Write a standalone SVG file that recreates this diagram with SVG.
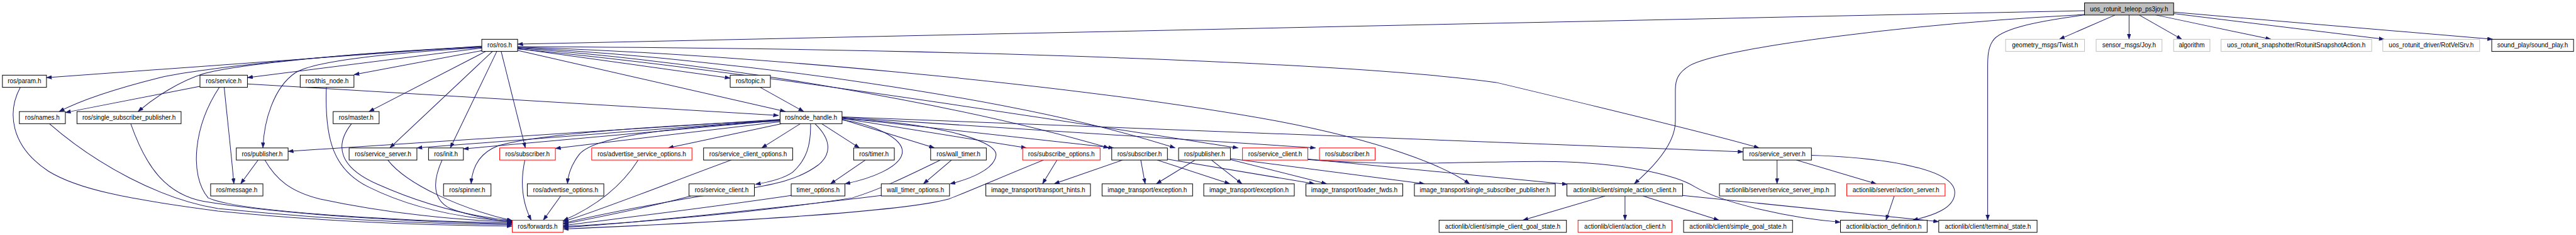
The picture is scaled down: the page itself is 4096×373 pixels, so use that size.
<svg xmlns="http://www.w3.org/2000/svg" width="4096" height="373" viewBox="0 0 4096 373">
<style>
.n rect{fill:#fff;stroke:#000;stroke-width:1.3}
.n.r rect{stroke:#f00}
.n.g rect{stroke:#bfbfbf}
.n.root rect{fill:#bfbfbf}
.n text{font-family:"Liberation Sans",Arial,sans-serif;font-size:13px;text-anchor:middle;fill:#000}
#edges path{fill:none;stroke:#191970;stroke-width:1.3;marker-end:url(#a)}
</style>
<defs>
<marker id="a" markerUnits="userSpaceOnUse" viewBox="0 0 11 8" refX="11" refY="4" markerWidth="11" markerHeight="8" orient="auto">
<path d="M0,0 L11,4 L0,8 z" fill="#191970" stroke="#191970" stroke-width="0.5"/>
</marker>
</defs>
<rect width="4096" height="373" fill="#fff"/>
<g transform="scale(0.769925)">
<g id="edges">
<path d="M4305,22 L1069,91"/>
<path d="M4305,30 C4000,45 3560,95 3490,135 C3465,150 3460,165 3460,185 L3460,250 C3460,295 3420,340 3375,379"/>
<path d="M4305,31 C4200,45 4130,60 4115,85 C4105,100 4105,120 4105,140 L4105,454"/>
<path d="M4368,31 L4253,81"/>
<path d="M4397,31 L4397,81"/>
<path d="M4418,31 L4506,81"/>
<path d="M4453,31 L4690,81"/>
<path d="M4489,28 L4924,81"/>
<path d="M4489,25 L5148,81"/>
<path d="M995,95 L96,160"/>
<path d="M995,96 C700,110 420,140 330,160 C250,180 170,205 122,230"/>
<path d="M995,97 C700,110 480,135 420,152 C370,168 320,200 285,230"/>
<path d="M995,99 L511,160"/>
<path d="M997,104 L731,154"/>
<path d="M995,98 C800,110 650,125 610,150 C565,180 545,250 543,305"/>
<path d="M1003,106 L762,230"/>
<path d="M1017,106 L805,305"/>
<path d="M1026,106 L930,305"/>
<path d="M1035,106 L1085,305"/>
<path d="M1069,100 L1508,161"/>
<path d="M1069,104 L1622,230"/>
<path d="M1069,96 C2000,100 2800,130 3090,170 C3300,220 3550,280 3633,305"/>
<path d="M1069,97 C1500,110 2200,170 2640,250 C2850,290 2980,340 3035,379"/>
<path d="M1069,98 C1500,120 2100,200 2427,305"/>
<path d="M1069,99 C1500,130 2000,220 2290,305"/>
<path d="M1069,101 C1500,140 2200,250 2557,305"/>
<path d="M1611,246 L595,312"/>
<path d="M1611,247 L861,305"/>
<path d="M1611,248 L957,307"/>
<path d="M1611,251 L1147,306"/>
<path d="M1611,248 C1300,262 1100,280 1030,300 C990,315 975,345 973,379"/>
<path d="M1611,249 C1350,265 1220,285 1195,320 C1180,340 1173,360 1172,379"/>
<path d="M1615,255 L1380,305"/>
<path d="M1653,255 L1573,305"/>
<path d="M1674,255 C1675,300 1665,330 1637,355 C1615,370 1585,376 1560,380"/>
<path d="M1697,255 L1775,305"/>
<path d="M1739,247 C1800,255 1870,285 1863,317 C1857,345 1800,368 1745,379"/>
<path d="M1739,246 L1930,305"/>
<path d="M1739,245 C1900,250 2060,285 2057,320 C2054,350 2000,370 1962,379"/>
<path d="M1739,244 L2120,305"/>
<path d="M1739,243 L2300,305"/>
<path d="M1739,242 L2717,305"/>
<path d="M1739,241 C2200,262 2900,285 3600,313"/>
<path d="M413,178 L135,232"/>
<path d="M463,180 C470,250 478,320 483,379"/>
<path d="M533,330 L497,379"/>
<path d="M511,173 L1608,238"/>
<path d="M1570,180 L1660,230"/>
<path d="M1787,330 L1715,379"/>
<path d="M1965,330 L1907,379"/>
<path d="M2183,330 L2153,379"/>
<path d="M2318,330 L2177,379"/>
<path d="M2356,330 L2365,379"/>
<path d="M2390,330 L2540,379"/>
<path d="M2410,328 L2715,379"/>
<path d="M2468,330 L2388,379"/>
<path d="M2502,330 L2565,379"/>
<path d="M2541,329 L2740,379"/>
<path d="M2541,327 L2942,379"/>
<path d="M2701,328 L3237,380"/>
<path d="M2701,329 C2900,345 3100,330 3213,333 C3350,336 3460,360 3500,385 C3560,420 3700,450 3801,458"/>
<path d="M3315,404 L3145,454"/>
<path d="M3356,404 L3356,454"/>
<path d="M3393,404 L3550,454"/>
<path d="M3475,403 L4004,457"/>
<path d="M3670,330 L3670,379"/>
<path d="M3710,330 L3875,379"/>
<path d="M3741,320 C3900,325 4037,350 4037,397 C4037,430 3990,445 3950,454"/>
<path d="M3912,404 L3895,454"/>
<path d="M42,180 C15,230 20,300 100,353 C160,390 260,410 450,435 C700,460 900,465 1058,466"/>
<path d="M102,255 C200,340 330,410 450,430 C700,455 900,462 1058,463"/>
<path d="M270,255 C300,340 340,400 420,415 C600,445 900,460 1058,461"/>
<path d="M453,180 C400,260 390,360 430,408 C500,440 900,458 1058,459"/>
<path d="M547,330 C570,370 600,395 660,410 C800,440 950,455 1058,457"/>
<path d="M674,180 C670,290 690,350 760,385 C850,430 950,450 1058,456"/>
<path d="M726,255 C690,300 700,345 780,380 C870,420 960,445 1058,455"/>
<path d="M801,330 C840,380 950,430 1058,455"/>
<path d="M913,330 C895,370 890,410 930,430 C970,445 1010,452 1058,458"/>
<path d="M1084,330 C1073,380 1080,420 1097,454"/>
<path d="M1158,404 L1122,454"/>
<path d="M1318,330 C1280,390 1220,430 1163,455"/>
<path d="M1510,330 C1400,370 1250,430 1163,457"/>
<path d="M1683,255 C1720,290 1715,320 1690,340 C1650,370 1600,380 1540,390 C1400,410 1250,440 1163,460"/>
<path d="M1427,404 C1350,425 1250,445 1163,462"/>
<path d="M1634,403 C1450,430 1280,450 1163,465"/>
<path d="M1942,330 C1880,360 1820,390 1760,408 C1550,440 1300,460 1163,467"/>
<path d="M1820,403 C1600,430 1300,460 1163,469"/>
<path d="M2155,330 C2080,360 2000,395 1960,410 C1850,440 1400,462 1163,472"/>
</g>
<g id="root" class="n root"><rect x="4305" y="6" width="184" height="25"/><text x="4397" y="23">uos_rotunit_teleop_ps3joy.h</text></g>
<g id="ros_h" class="n"><rect x="995" y="81" width="74" height="25"/><text x="1032" y="98">ros/ros.h</text></g>
<g id="twist" class="n g"><rect x="4142" y="81" width="163" height="25"/><text x="4223.5" y="98">geometry_msgs/Twist.h</text></g>
<g id="joy" class="n g"><rect x="4329" y="81" width="136" height="25"/><text x="4397" y="98">sensor_msgs/Joy.h</text></g>
<g id="algorithm" class="n g"><rect x="4489" y="81" width="75" height="25"/><text x="4526.5" y="98">algorithm</text></g>
<g id="snapshot" class="n g"><rect x="4587" y="81" width="311" height="25"/><text x="4742.5" y="98">uos_rotunit_snapshotter/RotunitSnapshotAction.h</text></g>
<g id="rotvel" class="n g"><rect x="4921" y="81" width="200" height="25"/><text x="5021" y="98">uos_rotunit_driver/RotVelSrv.h</text></g>
<g id="sound" class="n"><rect x="5146" y="81" width="169" height="25"/><text x="5230.5" y="98">sound_play/sound_play.h</text></g>
<g id="param" class="n"><rect x="5" y="155" width="91" height="25"/><text x="50.5" y="172">ros/param.h</text></g>
<g id="service" class="n"><rect x="413" y="155" width="98" height="25"/><text x="462" y="172">ros/service.h</text></g>
<g id="this_node" class="n"><rect x="620" y="155" width="111" height="25"/><text x="675.5" y="172">ros/this_node.h</text></g>
<g id="topic" class="n"><rect x="1508" y="155" width="83" height="25"/><text x="1549.5" y="172">ros/topic.h</text></g>
<g id="names" class="n"><rect x="40" y="230" width="95" height="25"/><text x="87.5" y="247">ros/names.h</text></g>
<g id="ssp" class="n"><rect x="159" y="230" width="215" height="25"/><text x="266.5" y="247">ros/single_subscriber_publisher.h</text></g>
<g id="master" class="n"><rect x="688" y="230" width="95" height="25"/><text x="735.5" y="247">ros/master.h</text></g>
<g id="node_handle" class="n"><rect x="1611" y="230" width="128" height="25"/><text x="1675" y="247">ros/node_handle.h</text></g>
<g id="publisher1" class="n"><rect x="488" y="305" width="107" height="25"/><text x="541.5" y="322">ros/publisher.h</text></g>
<g id="service_server1" class="n"><rect x="721" y="305" width="140" height="25"/><text x="791" y="322">ros/service_server.h</text></g>
<g id="init" class="n"><rect x="885" y="305" width="72" height="25"/><text x="921" y="322">ros/init.h</text></g>
<g id="subscriber_r1" class="n r"><rect x="1032" y="305" width="115" height="25"/><text x="1089.5" y="322">ros/subscriber.h</text></g>
<g id="adv_srv_opts" class="n r"><rect x="1222" y="305" width="207" height="25"/><text x="1325.5" y="322">ros/advertise_service_options.h</text></g>
<g id="srv_client_opts" class="n"><rect x="1453" y="305" width="184" height="25"/><text x="1545" y="322">ros/service_client_options.h</text></g>
<g id="timer" class="n"><rect x="1763" y="305" width="84" height="25"/><text x="1805" y="322">ros/timer.h</text></g>
<g id="wall_timer" class="n"><rect x="1922" y="305" width="115" height="25"/><text x="1979.5" y="322">ros/wall_timer.h</text></g>
<g id="subscribe_opts" class="n r"><rect x="2112" y="305" width="160" height="25"/><text x="2192" y="322">ros/subscribe_options.h</text></g>
<g id="subscriber2" class="n"><rect x="2296" y="305" width="115" height="25"/><text x="2353.5" y="322">ros/subscriber.h</text></g>
<g id="publisher2" class="n"><rect x="2434" y="305" width="107" height="25"/><text x="2487.5" y="322">ros/publisher.h</text></g>
<g id="service_client_r" class="n r"><rect x="2566" y="305" width="135" height="25"/><text x="2633.5" y="322">ros/service_client.h</text></g>
<g id="subscriber_r2" class="n r"><rect x="2725" y="305" width="115" height="25"/><text x="2782.5" y="322">ros/subscriber.h</text></g>
<g id="service_server2" class="n"><rect x="3600" y="305" width="141" height="25"/><text x="3670.5" y="322">ros/service_server.h</text></g>
<g id="message" class="n"><rect x="435" y="379" width="108" height="25"/><text x="489" y="396">ros/message.h</text></g>
<g id="spinner" class="n"><rect x="916" y="379" width="98" height="25"/><text x="965" y="396">ros/spinner.h</text></g>
<g id="adv_opts" class="n"><rect x="1089" y="379" width="158" height="25"/><text x="1168" y="396">ros/advertise_options.h</text></g>
<g id="service_client" class="n"><rect x="1423" y="379" width="135" height="25"/><text x="1490.5" y="396">ros/service_client.h</text></g>
<g id="timer_options" class="n"><rect x="1634" y="379" width="111" height="25"/><text x="1689.5" y="396">timer_options.h</text></g>
<g id="wall_timer_options" class="n"><rect x="1820" y="379" width="141" height="25"/><text x="1890.5" y="396">wall_timer_options.h</text></g>
<g id="transport_hints" class="n"><rect x="2036" y="379" width="216" height="25"/><text x="2144" y="396">image_transport/transport_hints.h</text></g>
<g id="exception1" class="n"><rect x="2276" y="379" width="187" height="25"/><text x="2369.5" y="396">image_transport/exception.h</text></g>
<g id="exception2" class="n"><rect x="2486" y="379" width="187" height="25"/><text x="2579.5" y="396">image_transport/exception.h</text></g>
<g id="loader_fwds" class="n"><rect x="2697" y="379" width="200" height="25"/><text x="2797" y="396">image_transport/loader_fwds.h</text></g>
<g id="it_ssp" class="n"><rect x="2921" y="379" width="291" height="25"/><text x="3066.5" y="396">image_transport/single_subscriber_publisher.h</text></g>
<g id="sac" class="n"><rect x="3236" y="379" width="239" height="25"/><text x="3355.5" y="396">actionlib/client/simple_action_client.h</text></g>
<g id="ssi" class="n"><rect x="3551" y="379" width="239" height="25"/><text x="3670.5" y="396">actionlib/server/service_server_imp.h</text></g>
<g id="action_server" class="n r"><rect x="3814" y="379" width="203" height="25"/><text x="3915.5" y="396">actionlib/server/action_server.h</text></g>
<g id="forwards" class="n r"><rect x="1058" y="454" width="105" height="25"/><text x="1110.5" y="471">ros/forwards.h</text></g>
<g id="scgs" class="n"><rect x="2972" y="454" width="263" height="25"/><text x="3103.5" y="471">actionlib/client/simple_client_goal_state.h</text></g>
<g id="action_client" class="n r"><rect x="3259" y="454" width="194" height="25"/><text x="3356" y="471">actionlib/client/action_client.h</text></g>
<g id="sgs" class="n"><rect x="3477" y="454" width="225" height="25"/><text x="3589.5" y="471">actionlib/client/simple_goal_state.h</text></g>
<g id="action_def" class="n"><rect x="3801" y="454" width="179" height="25"/><text x="3890.5" y="471">actionlib/action_definition.h</text></g>
<g id="terminal" class="n"><rect x="4004" y="454" width="203" height="25"/><text x="4105.5" y="471">actionlib/client/terminal_state.h</text></g>
</g>
</svg>
